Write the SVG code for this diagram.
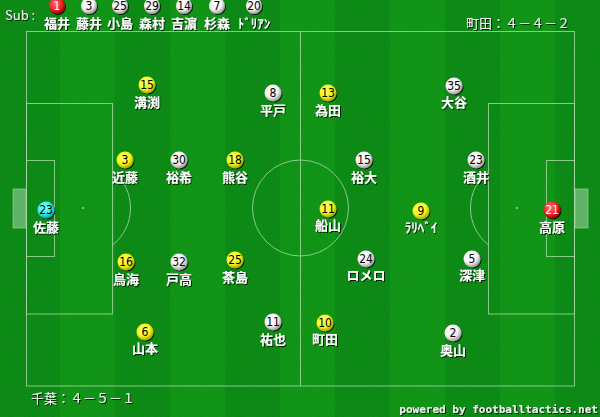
<svg xmlns="http://www.w3.org/2000/svg" width="600" height="417" viewBox="0 0 600 417">
<defs>
<filter id="grain" x="0" y="0" width="100%" height="100%">
<feTurbulence type="fractalNoise" baseFrequency="0.9" numOctaves="1" seed="3" result="n"/>
<feColorMatrix in="n" type="matrix" values="0 0 0 0 0  0 0 0 0 0.1  0 0 0 0 0  0 0 0 0.5 0" result="c"/>
<feComposite in="c" in2="SourceGraphic" operator="over"/>
</filter>
<filter id="sh" x="-20%" y="-20%" width="150%" height="150%">
<feDropShadow dx="1" dy="1" stdDeviation="0.4" flood-color="#000" flood-opacity="0.8"/>
</filter>
<radialGradient id="gw" cx="40%" cy="35%" r="65%">
<stop offset="0" stop-color="#ffffff"/><stop offset="0.6" stop-color="#f4f4f4"/><stop offset="1" stop-color="#9a9a9a"/>
</radialGradient>
<radialGradient id="gy" cx="40%" cy="35%" r="65%">
<stop offset="0" stop-color="#ffff66"/><stop offset="0.6" stop-color="#f8f820"/><stop offset="1" stop-color="#a8a800"/>
</radialGradient>
<radialGradient id="gc" cx="40%" cy="35%" r="65%">
<stop offset="0" stop-color="#88ffff"/><stop offset="0.6" stop-color="#33f0f0"/><stop offset="1" stop-color="#10a0a8"/>
</radialGradient>
<radialGradient id="gr" cx="40%" cy="35%" r="65%">
<stop offset="0" stop-color="#ff7070"/><stop offset="0.6" stop-color="#f02828"/><stop offset="1" stop-color="#a00000"/>
</radialGradient>
</defs>
<style>
.ln{fill:none;stroke:#a8d8a8;stroke-opacity:0.8;stroke-width:1}
.c{stroke:none;filter:url(#sh)}
.w{fill:url(#gw)}.y{fill:url(#gy)}.cy{fill:url(#gc)}.r{fill:url(#gr)}
.n{font-family:"Liberation Sans Narrow","DejaVu Sans Condensed","Liberation Sans",sans-serif;font-size:12px;fill:#000;text-anchor:middle}
.nr{fill:#fff}
.nm{font-family:"Noto Sans CJK JP","Noto Sans",sans-serif;font-size:13px;font-weight:bold;fill:#fff;text-anchor:middle;filter:url(#sh)}
.hd{font-family:"Noto Sans CJK JP","DejaVu Sans",sans-serif;font-size:13px;fill:#f0f0f0;filter:url(#sh)}
.pw{font-family:"DejaVu Sans Mono","Liberation Mono",monospace;font-size:11px;font-weight:bold;fill:#f0f0f0;filter:url(#sh)}
</style>
<rect x="0" y="0" width="600" height="417" fill="#12961a" filter="url(#grain)"/>
<g opacity="0.35">
<rect x="60" y="0" width="55" height="417" fill="#1aa81a"/>
<rect x="170" y="0" width="55" height="417" fill="#1aa81a"/>
<rect x="280" y="0" width="55" height="417" fill="#1aa81a"/>
<rect x="390" y="0" width="55" height="417" fill="#1aa81a"/>
<rect x="500" y="0" width="55" height="417" fill="#1aa81a"/>
</g>
<g id="pitch">
<rect class="ln" x="26.5" y="31.5" width="548" height="354.5"/>
<line class="ln" x1="300.5" y1="31.5" x2="300.5" y2="386"/>
<circle class="ln" cx="300.5" cy="208" r="48"/>
<rect class="ln" x="26.5" y="103.5" width="86" height="210.5"/>
<rect class="ln" x="26.5" y="160.5" width="28" height="96"/>
<rect x="13" y="189" width="13" height="39" fill="#ffffff" fill-opacity="0.35" stroke="#a8d8a8" stroke-opacity="0.6"/>
<path class="ln" d="M112.5 171 A47 47 0 0 1 112.5 245"/>
<circle cx="83" cy="208" r="1" fill="#a8d8a8"/>
<rect class="ln" x="488.5" y="103.5" width="86" height="210.5"/>
<rect class="ln" x="546.5" y="160.5" width="28" height="96"/>
<rect x="575" y="189" width="13" height="39" fill="#ffffff" fill-opacity="0.35" stroke="#a8d8a8" stroke-opacity="0.6"/>
<path class="ln" d="M488.5 171 A47 47 0 0 0 488.5 245"/>
<circle cx="517" cy="208" r="1" fill="#a8d8a8"/>
</g>
<g id="connectors"></g>
<g id="headers">
<text class="hd" x="5" y="20" font-family="Liberation Sans">Sub :</text>
<text class="hd" x="570" y="28" text-anchor="end">町田：４－４－２</text>
<text class="hd" x="31" y="403">千葉：４－５－１</text>
<text class="pw" x="598" y="413" text-anchor="end">powered by footballtactics.net</text>
</g>
<g id="subs">
<g id="sub1"><circle class="c r" cx="57" cy="6" r="8"/><text class="n nr" x="57" y="10">1</text><text class="nm" x="57" y="28">福井</text></g>
<g id="sub3"><circle class="c w" cx="89" cy="6" r="8"/><text class="n" x="89" y="10">3</text><text class="nm" x="89" y="28">藤井</text></g>
<g id="sub25"><circle class="c w" cx="120" cy="6" r="8"/><text class="n" x="120" y="10">25</text><text class="nm" x="120" y="28">小島</text></g>
<g id="sub29"><circle class="c w" cx="152" cy="6" r="8"/><text class="n" x="152" y="10">29</text><text class="nm" x="152" y="28">森村</text></g>
<g id="sub14"><circle class="c w" cx="184" cy="6" r="8"/><text class="n" x="184" y="10">14</text><text class="nm" x="184" y="28">吉濵</text></g>
<g id="sub7"><circle class="c w" cx="217" cy="6" r="8"/><text class="n" x="217" y="10">7</text><text class="nm" x="217" y="28">杉森</text></g>
<g id="sub20"><circle class="c w" cx="254" cy="6" r="8"/><text class="n" x="254" y="10">20</text><text class="nm" x="254" y="28">ﾄﾞﾘｱﾝ</text></g>
</g>
<g id="chiba">
<g id="p-sato"><circle class="c cy" cx="46" cy="210" r="8.5"/><text class="n" x="46" y="214">23</text><text class="nm" x="46" y="232">佐藤</text></g>
<g id="p-mizobuchi"><circle class="c y" cx="147" cy="85" r="8.5"/><text class="n" x="147" y="89">15</text><text class="nm" x="147" y="107">溝渕</text></g>
<g id="p-kondo"><circle class="c y" cx="125" cy="160" r="8.5"/><text class="n" x="125" y="164">3</text><text class="nm" x="125" y="182">近藤</text></g>
<g id="p-kumagai"><circle class="c y" cx="235" cy="160" r="8.5"/><text class="n" x="235" y="164">18</text><text class="nm" x="235" y="182">熊谷</text></g>
<g id="p-toriumi"><circle class="c y" cx="126" cy="262" r="8.5"/><text class="n" x="126" y="266">16</text><text class="nm" x="126" y="284">鳥海</text></g>
<g id="p-chajima"><circle class="c y" cx="235" cy="260" r="8.5"/><text class="n" x="235" y="264">25</text><text class="nm" x="235" y="282">茶島</text></g>
<g id="p-yamamoto"><circle class="c y" cx="145" cy="332" r="8.5"/><text class="n" x="145" y="336">6</text><text class="nm" x="145" y="353">山本</text></g>
<g id="p-tameda"><circle class="c y" cx="328" cy="93" r="8.5"/><text class="n" x="328" y="97">13</text><text class="nm" x="328" y="115">為田</text></g>
<g id="p-funayama"><circle class="c y" cx="328" cy="209" r="8.5"/><text class="n" x="328" y="213">11</text><text class="nm" x="328" y="230">船山</text></g>
<g id="p-larrivey"><circle class="c y" cx="421" cy="211" r="8.5"/><text class="n" x="421" y="215">9</text><text class="nm" x="421" y="232">ﾗﾘﾍﾞｲ</text></g>
<g id="p-machida"><circle class="c y" cx="325" cy="323" r="8.5"/><text class="n" x="325" y="327">10</text><text class="nm" x="325" y="344">町田</text></g>
</g>
<g id="machida">
<g id="p-takahara"><circle class="c r" cx="552" cy="210" r="8.5"/><text class="n nr" x="552" y="214">21</text><text class="nm" x="552" y="232">高原</text></g>
<g id="p-hirato"><circle class="c w" cx="273" cy="93" r="8.5"/><text class="n" x="273" y="97">8</text><text class="nm" x="273" y="115">平戸</text></g>
<g id="p-yuki"><circle class="c w" cx="179" cy="160" r="8.5"/><text class="n" x="179" y="164">30</text><text class="nm" x="179" y="182">裕希</text></g>
<g id="p-todaka"><circle class="c w" cx="179" cy="262" r="8.5"/><text class="n" x="179" y="266">32</text><text class="nm" x="179" y="284">戸高</text></g>
<g id="p-yuya"><circle class="c w" cx="273" cy="322" r="8.5"/><text class="n" x="273" y="326">11</text><text class="nm" x="273" y="344">祐也</text></g>
<g id="p-otani"><circle class="c w" cx="454" cy="86" r="8.5"/><text class="n" x="454" y="90">35</text><text class="nm" x="454" y="107">大谷</text></g>
<g id="p-yudai"><circle class="c w" cx="364" cy="160" r="8.5"/><text class="n" x="364" y="164">15</text><text class="nm" x="364" y="182">裕大</text></g>
<g id="p-sakai"><circle class="c w" cx="476" cy="160" r="8.5"/><text class="n" x="476" y="164">23</text><text class="nm" x="476" y="182">酒井</text></g>
<g id="p-romero"><circle class="c w" cx="366" cy="259" r="8.5"/><text class="n" x="366" y="263">24</text><text class="nm" x="366" y="280">ロメロ</text></g>
<g id="p-fukatsu"><circle class="c w" cx="472" cy="259" r="8.5"/><text class="n" x="472" y="263">5</text><text class="nm" x="472" y="280">深津</text></g>
<g id="p-okuyama"><circle class="c w" cx="453" cy="333" r="8.5"/><text class="n" x="453" y="337">2</text><text class="nm" x="453" y="355">奥山</text></g>
</g>
</svg>
